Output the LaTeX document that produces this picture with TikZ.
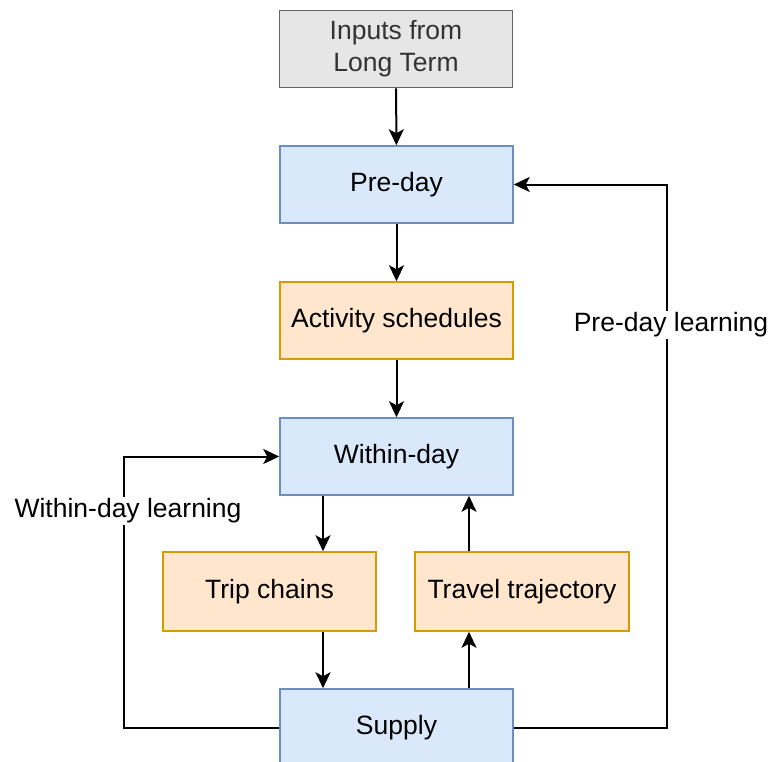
\documentclass[tikz,border=0pt]{standalone}
\usepackage{fontspec}
\setmainfont{Liberation Sans}
\usetikzlibrary{arrows.meta}
\definecolor{bluefill}{HTML}{DAE8FC}
\definecolor{blueline}{HTML}{6C8EBF}
\definecolor{orfill}{HTML}{FFE6CC}
\definecolor{orline}{HTML}{D79B00}
\definecolor{grfill}{HTML}{E6E6E6}
\definecolor{grline}{HTML}{666666}
\definecolor{grtext}{HTML}{333333}
\tikzset{
  box/.style={draw, line width=1.5pt, minimum width=233pt, minimum height=77pt, inner sep=0pt, align=center, font=\fontsize{26.5}{32}\selectfont},
  bluebox/.style={box, fill=bluefill, draw=blueline},
  orbox/.style={box, fill=orfill, draw=orline},
  graybox/.style={box, fill=grfill, draw=grline, text=grtext},
  conn/.style={line width=2pt, -{Stealth[length=16pt,width=15pt,inset=4pt]}},
  lbl/.style={fill=white, inner sep=2pt, font=\fontsize{26.5}{32}\selectfont}
}
\begin{document}
\begin{tikzpicture}[x=1pt,y=-1pt]
\useasboundingbox (0,0) rectangle (771,761);
\node[graybox] (inputs) at (396,49) {Inputs from\\Long Term};
\node[bluebox] (preday) at (396.5,184.5) {Pre-day};
\node[orbox] (activity) at (396.5,320.5) {Activity schedules};
\node[bluebox] (within) at (396.5,456.5) {Within-day};
\node[orbox, minimum width=213pt, minimum height=79pt] (trip) at (269.5,591.5) {Trip chains};
\node[orbox, minimum width=214pt, minimum height=79pt] (travel) at (522,591.5) {Travel trajectory};
\node[bluebox] (supply) at (396.5,727.5) {Supply};

\draw[conn] (inputs) -- (preday);
\draw[conn] (preday) -- (activity);
\draw[conn] (activity) -- (within);
\draw[conn] (within.south -| 323,0) -- (trip.north -| 323,0);
\draw[conn] (trip.south -| 323,0) -- (supply.north -| 323,0);
\draw[conn] (supply.north -| 469,0) -- (travel.south -| 469,0);
\draw[conn] (travel.north -| 469,0) -- (within.south -| 469,0);

\coordinate (lb) at (124,727.5);
\coordinate (lt) at (124,456.5);
\coordinate (rb) at (667,727.5);
\coordinate (rt) at (667,184.5);
\draw[conn] (supply.west) -- (lb) -- (lt) -- (within.west);
\draw[conn] (supply.east) -- (rb) -- (rt) -- (preday.east);

\node[lbl] (wdl) at (128,511) {Within-day learning};
\node[lbl] (pdl) at (671,325) {Pre-day learning};
\end{tikzpicture}
\end{document}
